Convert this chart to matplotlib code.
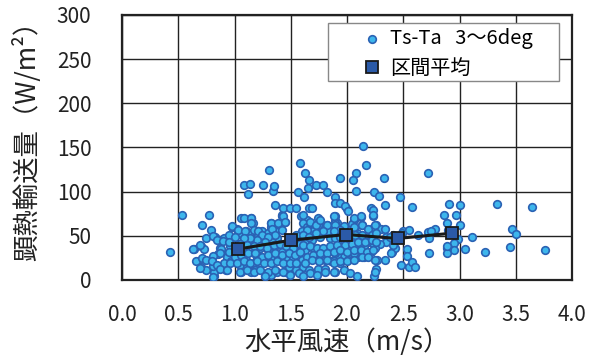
import matplotlib
matplotlib.use('Agg')
import matplotlib.pyplot as plt
from matplotlib.patches import Rectangle

plt.rcParams['font.family'] = ['Noto Sans CJK JP', 'DejaVu Sans']

# horizontal wind speed (m/s), sensible heat flux (W/m2)
wind = [
    0.43, 0.53, 0.77, 0.71, 0.79, 0.75, 0.64, 0.70, 0.73, 0.66, 0.70, 0.75, 0.82, 0.82, 0.81,
    0.88, 0.92, 0.85, 0.87, 0.83, 0.86, 0.91, 0.95, 0.98, 1.02, 1.06, 1.15, 1.16, 1.08, 1.14,
    1.12, 1.25, 1.31, 1.34, 1.35, 1.36, 1.42, 1.43, 1.49, 1.55, 1.58, 1.63, 1.66, 1.65, 1.72,
    1.79, 1.82, 1.56, 1.62, 1.66, 1.69, 1.59, 1.64, 1.74, 1.89, 1.89, 1.94, 1.94, 2.00, 1.89,
    1.89,
    2.14, 2.17, 2.08, 2.05, 2.33, 2.72, 2.08, 2.24, 2.28, 2.47, 2.34, 2.58, 2.91, 3.00, 3.33,
    3.64, 1.98, 2.01, 2.21, 2.23, 2.23, 2.12, 2.13, 2.06, 2.04, 1.91, 2.26, 2.23, 2.30, 2.34,
    2.50, 2.55, 2.63, 2.72, 2.78, 2.75, 2.86, 2.89, 2.97, 3.00, 2.90, 3.11, 2.99, 2.95, 3.05,
    2.95, 2.89, 2.89, 3.23, 3.45, 3.47, 3.50, 3.76, 2.73, 2.73, 2.53, 2.53, 2.48, 2.55, 2.58,
    2.60, 2.40, 2.43, 2.41, 2.35, 2.35, 2.26, 2.24, 2.34, 2.27, 1.89, 2.29, 2.25, 2.21, 2.15,
    2.10, 2.06, 2.01, 1.97, 1.91, 1.86, 1.94, 2.15, 2.19, 2.23, 2.09, 2.03, 1.98, 2.15, 2.41,
    2.38, 2.49, 2.09, 2.06, 1.97, 1.89, 1.85,
    1.05, 1.10, 1.14, 1.21, 0.81, 0.69, 0.63, 0.84, 0.90, 0.96, 0.88, 0.87, 0.81, 0.93, 0.91,
    0.97, 0.71, 0.75, 0.80, 0.84, 0.69, 0.81, 0.87, 1.05, 1.06, 1.11, 1.17, 1.20, 1.15, 1.10,
    1.20, 1.05, 1.17, 1.11, 1.21, 1.05, 1.12, 1.18, 1.20,
    1.42, 1.45, 1.40, 1.32, 1.32, 1.24, 1.21, 1.30, 1.36, 1.38, 1.33, 1.61, 1.64, 1.67, 1.74,
    1.70, 1.65, 1.60, 1.55, 1.56, 1.63, 1.69, 1.76, 1.82, 1.83, 1.89, 1.85, 1.89, 1.94, 1.97,
    2.00, 2.03,
    1.23, 1.30, 1.36, 1.42, 1.48, 1.54, 1.63, 1.70, 1.78, 1.83, 1.89, 1.95, 2.01, 1.24, 1.32,
    1.39, 1.46, 1.52, 1.60, 1.67, 1.74, 1.80, 1.88, 2.01,
    1.27, 1.32, 1.38, 1.45, 1.48, 1.55, 1.61, 1.66, 1.72, 1.74, 1.80, 1.18,
    2.13, 2.04, 2.39, 2.89, 2.06, 2.15,
    # dense core, 1.0-1.6 m/s
    1.08, 1.15, 1.15, 0.98, 1.03, 1.09, 1.17, 1.21, 1.24, 1.32, 1.33, 1.39, 1.43, 1.45, 1.42,
    1.36, 1.30, 1.27, 1.20, 1.14, 1.08, 1.00, 0.95, 1.05, 1.11, 1.17, 1.23, 1.29, 1.35, 1.40,
    1.46, 1.52, 1.58, 0.95, 1.00, 1.06, 1.12, 1.18, 1.24, 1.30, 1.36, 1.42, 1.48, 1.54, 1.58,
    0.96, 1.02, 1.08, 1.14, 1.20, 1.26, 1.32, 1.38, 1.43, 1.49, 1.55, 1.05, 1.11, 1.17, 1.23,
    1.30, 1.36, 1.43, 1.49, 1.57, 1.27, 0.93,
    # dense core, 1.6-2.3 m/s
    1.61, 1.67, 1.72, 1.64, 1.61, 1.76, 1.82, 1.88, 1.89, 1.94, 1.88, 1.79, 1.72, 1.66, 2.06,
    2.12, 2.13, 2.06, 2.07, 2.13, 2.19, 2.23, 2.25, 2.22, 2.26, 1.61, 1.67, 1.73, 1.79, 1.85,
    1.91, 1.98, 2.04, 2.10, 2.16, 2.22, 2.26, 1.64, 1.70, 1.76, 1.82, 1.88, 1.94, 2.00, 2.06,
    2.12, 2.18, 2.23, 1.63, 1.69, 1.75, 1.82, 1.88, 1.94, 2.00, 2.06, 2.13, 2.19, 2.25, 1.67,
    1.73, 1.80, 1.88, 1.97, 2.03, 2.09, 2.25, 1.61,
]
flux = [
    32, 74, 74, 62, 57, 47, 35, 39, 35, 21, 15, 11, 4, 9, 16,
    15, 11, 29, 36, 49, 45, 47, 51, 60, 58, 70, 70, 65, 107, 109,
    97, 107, 125, 101, 106, 85, 74, 82, 82, 82, 133, 121, 113, 104, 108,
    107, 100, 100, 94, 82, 82, 73, 68, 70, 94, 87, 115, 87, 80, 72,
    68,
    152, 130, 121, 113, 116, 121, 101, 100, 95, 94, 85, 83, 86, 85, 86,
    83, 84, 78, 82, 79, 73, 71, 62, 68, 63, 65, 62, 59, 58, 58,
    55, 57, 51, 54, 58, 55, 74, 64, 74, 62, 57, 49, 46, 42, 35,
    34, 36, 30, 32, 37, 58, 52, 34, 30, 47, 35, 27, 17, 15, 20,
    15, 32, 36, 40, 49, 43, 12, 5, 23, 23, 9, 41, 36, 32, 32,
    26, 26, 25, 28, 28, 21, 19, 49, 43, 42, 41, 40, 36, 38, 51,
    49, 53, 53, 58, 61, 57, 51,
    53, 56, 53, 55, 50, 40, 35, 45, 44, 38, 35, 30, 27, 26, 19,
    21, 25, 23, 21, 17, 14, 3, 13, 17, 9, 15, 19, 13, 9, 23,
    25, 25, 30, 30, 34, 41, 41, 45, 51,
    72, 66, 60, 64, 60, 56, 50, 53, 56, 47, 43, 64, 60, 64, 62,
    55, 53, 55, 51, 43, 42, 45, 49, 62, 55, 64, 47, 47, 49, 45,
    43, 47,
    36, 34, 38, 32, 34, 36, 34, 36, 34, 34, 30, 34, 34, 25, 25,
    26, 25, 26, 23, 25, 23, 23, 21, 23,
    4, 6, 9, 9, 15, 11, 15, 11, 8, 13, 13, 11,
    42, 42, 31, 38, 30, 26,
    70, 70, 64, 61, 57, 55, 57, 55, 51, 64, 58, 64, 72, 66, 57,
    51, 49, 43, 45, 47, 47, 49, 43, 41, 40, 38, 38, 36, 40, 41,
    38, 36, 41, 32, 26, 28, 30, 30, 26, 28, 30, 28, 30, 28, 32,
    19, 19, 21, 19, 21, 19, 19, 21, 19, 19, 19, 9, 11, 9, 11,
    9, 11, 9, 6, 8, 4, 11,
    74, 66, 62, 57, 51, 68, 62, 72, 62, 57, 55, 55, 53, 49, 70,
    72, 62, 60, 51, 51, 58, 74, 62, 51, 53, 40, 38, 36, 36, 38,
    40, 40, 41, 43, 43, 45, 43, 26, 28, 30, 30, 32, 34, 32, 34,
    34, 32, 34, 19, 23, 21, 23, 19, 21, 21, 23, 26, 26, 23, 8,
    6, 9, 9, 11, 8, 4, 9, 4,
]

# interval (bin) averages
bin_wind = [1.03, 1.50, 1.99, 2.45, 2.93]
bin_flux = [35, 45, 51.5, 47, 53]

x_ticks = [0.0, 0.5, 1.0, 1.5, 2.0, 2.5, 3.0, 3.5, 4.0]
y_ticks = [0, 50, 100, 150, 200, 250, 300]

fig = plt.figure(figsize=(5.97, 3.56), dpi=100)
ax = fig.add_axes([0.2044, 0.2135, 0.7538, 0.7444])

ax.scatter(wind, flux, s=30, facecolor='#3db6ec', edgecolor='#2a62b4',
           linewidth=1.2, zorder=3, label='Ts-Ta   3～6deg')
ax.plot(bin_wind, bin_flux, color='#1a1a1a', linewidth=2.2, zorder=4)
ax.plot(bin_wind, bin_flux, linestyle='none', marker='s', markersize=9,
        markerfacecolor='#2b5aa8', markeredgecolor='#1a1a1a', markeredgewidth=1.3,
        zorder=5, label='区間平均')

ax.set_xlim(0, 4.0)
ax.set_ylim(0, 300)
ax.set_xticks(x_ticks)
ax.set_yticks(y_ticks)
ax.set_xticklabels([f'{v:.1f}' for v in x_ticks])
ax.grid(True, color='#222222', linewidth=1.0)
ax.set_axisbelow(True)
for s in ax.spines.values():
    s.set_linewidth(1.6)
    s.set_color('#222222')
ax.tick_params(length=0, labelsize=15, colors='#222222')
ax.tick_params(axis='x', pad=17)
ax.tick_params(axis='y', pad=22)

ax.set_xlabel('水平風速（m/s）', fontsize=19, color='#222222', va='center')
ax.set_ylabel('顕熱輸送量（W/m²）', fontsize=19, color='#222222', va='center')
ax.xaxis.set_label_coords(0.5, -0.235)
ax.yaxis.set_label_coords(-0.212, 0.55)

# legend box drawn separately, the entries sit inside it
ax.add_patch(Rectangle((0.458, 0.751), 0.513, 0.219, transform=ax.transAxes,
                       facecolor='white', edgecolor='#888888', linewidth=1.0,
                       zorder=6))
leg = ax.legend(loc='upper left', bbox_to_anchor=(0.538, 0.95), fontsize=14.5,
                frameon=False, handlelength=0.8, handletextpad=0.5,
                borderpad=0, labelspacing=0.42, borderaxespad=0)
leg.set_zorder(7)

fig.savefig('out.png', dpi=100)
